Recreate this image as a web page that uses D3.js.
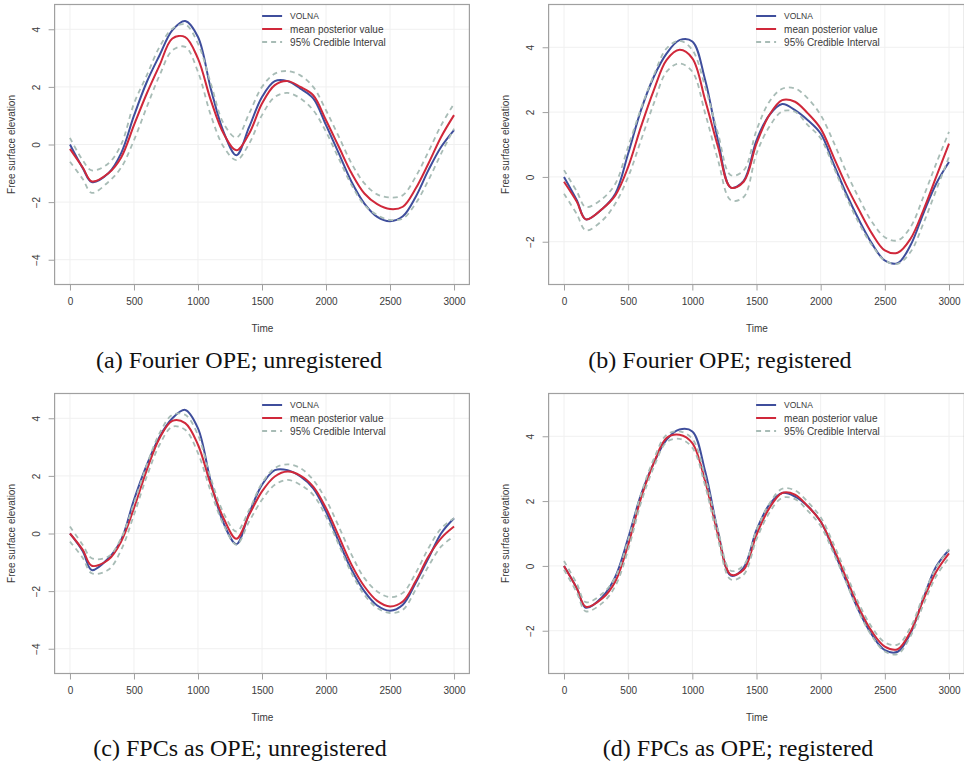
<!DOCTYPE html>
<html><head><meta charset="utf-8">
<script src="https://cdn.jsdelivr.net/npm/d3@7"></script>
<style>body{margin:0;background:#fff}svg{display:block}</style>
</head><body>
<svg id="c" width="964" height="765"></svg>
<script>
// ---------------- DATA ----------------
const times = [0,100,170,300,400,500,600,700,800,900,1000,1100,1200,1300,1400,1500,1600,1700,1800,1900,2000,2100,2200,2300,2400,2500,2600,2700,2800,2900,3000];
const xTicks = [0,500,1000,1500,2000,2500,3000];
const yTicksWide = [-4,-2,0,2,4];
const yTicksNarrow = [-2,0,2,4];
const legendLabels = ["VOLNA","mean posterior value","95% Credible Interval"];
const captions = ["(a) Fourier OPE; unregistered","(b) Fourier OPE; registered","(c) FPCs as OPE; unregistered","(d) FPCs as OPE; registered"];
const xLabel = "Time";
const yLabel = "Free surface elevation";

// Panel (a)
const volnaA = [0.0,-0.82,-1.30,-1.0,-0.30,1.0,2.17,3.1,3.97,4.29,3.73,1.94,0.44,-0.37,0.61,1.65,2.2,2.2,1.94,1.6,0.67,-0.31,-1.3,-2.05,-2.51,-2.66,-2.49,-1.82,-0.89,-0.08,0.5];
const meanA  = [-0.15,-0.8,-1.28,-1.0,-0.45,0.67,1.77,2.75,3.68,3.73,2.98,1.54,0.38,-0.2,0.38,1.42,2.06,2.2,2.0,1.71,0.84,-0.08,-1.0,-1.7,-2.07,-2.24,-2.16,-1.53,-0.66,0.27,1.02];
const upperA = [0.23,-0.55,-0.9,-0.66,0.0,1.42,2.4,3.39,4.02,4.17,3.5,2.12,0.73,0.24,1.08,2.0,2.46,2.55,2.4,2.0,1.19,0.27,-0.66,-1.35,-1.73,-1.84,-1.76,-1.12,-0.25,0.67,1.42];
const lowerA = [-0.6,-1.2,-1.68,-1.3,-0.8,0.15,1.3,2.4,3.27,3.39,2.52,1.02,-0.08,-0.54,0.03,1.02,1.65,1.79,1.6,1.19,0.44,-0.49,-1.41,-2.1,-2.45,-2.62,-2.57,-2.05,-1.24,-0.31,0.55];

// Panel (b)
const volnaB = [0.0,-0.72,-1.31,-0.98,-0.52,0.72,2.06,3.09,3.81,4.22,4.18,2.99,1.13,-0.33,-0.12,1.13,1.91,2.25,2.06,1.75,1.34,0.41,-0.52,-1.34,-2.06,-2.58,-2.66,-2.11,-1.13,-0.21,0.46];
const meanB  = [-0.15,-0.77,-1.31,-0.98,-0.57,0.31,1.55,2.68,3.61,3.92,3.66,2.37,0.93,-0.33,-0.15,1.03,1.91,2.37,2.32,1.96,1.49,0.62,-0.26,-1.03,-1.75,-2.27,-2.34,-1.91,-1.03,0.0,1.03];
const upperB = [0.21,-0.45,-0.93,-0.67,-0.21,0.93,2.11,3.14,3.97,4.2,3.92,2.78,1.34,0.05,0.2,1.44,2.32,2.72,2.73,2.42,1.91,1.08,0.15,-0.67,-1.39,-1.86,-1.96,-1.55,-0.62,0.41,1.39];
const lowerB = [-0.52,-1.15,-1.65,-1.34,-0.82,0.0,1.13,2.27,3.25,3.5,3.25,1.96,0.52,-0.72,-0.62,0.72,1.55,2.02,2.01,1.6,1.19,0.31,-0.62,-1.44,-2.11,-2.58,-2.68,-2.32,-1.44,-0.41,0.62];

// Panel (c)
const volnaC = [0.0,-0.62,-1.27,-0.86,-0.22,1.17,2.38,3.36,4.0,4.29,3.65,1.8,0.36,-0.37,0.71,1.69,2.2,2.2,1.98,1.57,0.76,-0.28,-1.26,-2.01,-2.5,-2.68,-2.47,-1.72,-0.86,0.01,0.53];
const meanC  = [0.0,-0.57,-1.12,-0.91,-0.28,0.88,2.2,3.31,3.91,3.83,3.08,1.69,0.53,-0.18,0.65,1.46,1.98,2.15,2.01,1.63,0.88,-0.1,-1.09,-1.84,-2.34,-2.53,-2.36,-1.66,-0.8,-0.16,0.24];
const upperC = [0.24,-0.4,-0.86,-0.8,-0.16,1.05,2.38,3.48,4.12,4.12,3.42,1.92,0.71,0.07,0.82,1.75,2.27,2.4,2.27,1.86,1.17,0.24,-0.74,-1.55,-2.01,-2.21,-2.06,-1.38,-0.51,0.18,0.53];
const lowerC = [-0.28,-0.85,-1.38,-1.26,-0.57,0.65,1.98,3.08,3.71,3.6,2.79,1.46,0.3,-0.39,0.42,1.17,1.69,1.86,1.69,1.34,0.59,-0.39,-1.38,-2.13,-2.59,-2.76,-2.65,-1.95,-1.14,-0.45,-0.1];

// Panel (d)
const volnaD = [0.0,-0.69,-1.29,-0.95,-0.33,0.86,2.2,3.18,3.9,4.21,4.15,2.92,1.06,-0.3,-0.05,1.11,1.89,2.25,2.14,1.84,1.37,0.49,-0.48,-1.41,-2.13,-2.6,-2.65,-2.08,-1.0,-0.02,0.49];
const meanD  = [0.0,-0.69,-1.26,-1.0,-0.48,0.65,2.09,3.18,3.95,4.05,3.79,2.61,0.96,-0.27,-0.12,0.96,1.78,2.25,2.2,1.84,1.37,0.55,-0.38,-1.31,-2.03,-2.49,-2.57,-2.03,-1.05,-0.18,0.39];
const upperD = [0.15,-0.55,-1.12,-0.85,-0.35,0.8,2.22,3.3,4.05,4.15,3.92,2.75,1.1,-0.15,0.02,1.1,1.92,2.38,2.33,1.97,1.5,0.68,-0.25,-1.18,-1.9,-2.36,-2.43,-1.9,-0.92,-0.05,0.52];
const lowerD = [-0.12,-0.82,-1.4,-1.14,-0.62,0.5,1.95,3.05,3.82,3.92,3.65,2.47,0.82,-0.42,-0.27,0.82,1.64,2.1,2.06,1.7,1.23,0.4,-0.52,-1.45,-2.17,-2.64,-2.72,-2.17,-1.2,-0.32,0.25];

const yLimWide = [-4.5,4.5];
const yLimNarrow = [-3,5];
const xLim = [0,3000];

// ---------------- LAYOUT / STYLE ----------------
const COL_VOLNA = "#3f4e9c";
const COL_MEAN = "#d0283a";
const COL_CI = "#a8bcb6";
const COL_BOX = "#a0a0a0";
const COL_TEXT = "#3a3a3a";

const panels = [
  {left:54.6, right:469.4, top:4.5, bottom:284.5, ylim:yLimWide, yt:yTicksWide,
   s:[volnaA,meanA,upperA,lowerA], cap:captions[0], cx:239, cy:368},
  {left:548.6, right:964.4, top:4.5, bottom:284.5, ylim:yLimNarrow, yt:yTicksNarrow,
   s:[volnaB,meanB,upperB,lowerB], cap:captions[1], cx:720, cy:368},
  {left:54.6, right:469.4, top:393.5, bottom:673.5, ylim:yLimWide, yt:yTicksWide,
   s:[volnaC,meanC,upperC,lowerC], cap:captions[2], cx:240, cy:756},
  {left:548.6, right:964.4, top:393.5, bottom:673.5, ylim:yLimNarrow, yt:yTicksNarrow,
   s:[volnaD,meanD,upperD,lowerD], cap:captions[3], cx:738, cy:756}
];

const svg = d3.select("#c");
const ext = (lim) => { const r = lim[1]-lim[0]; return [lim[0]-0.04*r, lim[1]+0.04*r]; };

panels.forEach((p, pi) => {
  const x = d3.scaleLinear().domain(ext(xLim)).range([p.left, p.right]);
  const y = d3.scaleLinear().domain(ext(p.ylim)).range([p.bottom, p.top]);
  const g = svg.append("g");

  // faint grid
  g.selectAll(".vg").data(xTicks).join("line")
    .attr("x1", d=>x(d)).attr("x2", d=>x(d)).attr("y1", p.top).attr("y2", p.bottom)
    .attr("stroke", "#f0f0f0").attr("stroke-width", 1);
  g.selectAll(".hg").data(p.yt).join("line")
    .attr("y1", d=>y(d)).attr("y2", d=>y(d)).attr("x1", p.left).attr("x2", p.right)
    .attr("stroke", "#f0f0f0").attr("stroke-width", 1);

  // curves
  const line = d3.line().x((d,i)=>x(times[i])).y(d=>y(d)).curve(d3.curveCatmullRom.alpha(0.5));
  const clipId = "clip" + pi;
  svg.append("clipPath").attr("id", clipId).append("rect")
    .attr("x", p.left).attr("y", p.top).attr("width", p.right-p.left).attr("height", p.bottom-p.top);
  const cg = g.append("g").attr("clip-path", "url(#"+clipId+")");
  cg.append("path").datum(p.s[0]).attr("d", line).attr("fill","none")
    .attr("stroke", COL_VOLNA).attr("stroke-width", 2);
  cg.append("path").datum(p.s[1]).attr("d", line).attr("fill","none")
    .attr("stroke", COL_MEAN).attr("stroke-width", 2);
  [p.s[2], p.s[3]].forEach(s => {
    cg.append("path").datum(s).attr("d", line).attr("fill","none")
      .attr("stroke", COL_CI).attr("stroke-width", 1.8).attr("stroke-dasharray","5,4");
  });

  // box
  g.append("rect").attr("x", p.left).attr("y", p.top)
    .attr("width", p.right-p.left).attr("height", p.bottom-p.top)
    .attr("fill","none").attr("stroke", COL_BOX).attr("stroke-width", 1.2);

  // x axis
  const xa = g.append("g").attr("transform", `translate(0,${p.bottom})`)
    .call(d3.axisBottom(x).tickValues(xTicks).tickSize(6).tickPadding(7).tickFormat(d3.format("d")));
  xa.select(".domain").remove();
  xa.selectAll(".tick line").attr("stroke", COL_BOX);
  xa.selectAll(".tick text").attr("fill", COL_TEXT).style("font-family","'Liberation Sans', Arial, sans-serif").style("font-size","10px");

  // y axis
  const ya = g.append("g").attr("transform", `translate(${p.left},0)`)
    .call(d3.axisLeft(y).tickValues(p.yt).tickSize(6).tickFormat(d3.format("d")));
  ya.select(".domain").remove();
  ya.selectAll(".tick line").attr("stroke", COL_BOX);
  ya.selectAll(".tick text")
    .attr("x", null).attr("dy", null)
    .attr("text-anchor","middle")
    .attr("transform", "translate(-18,0) rotate(-90)")
    .attr("dy", "0.35em")
    .attr("fill", COL_TEXT).style("font-family","'Liberation Sans', Arial, sans-serif").style("font-size","10px");

  // axis titles
  g.append("text").attr("x", (p.left+p.right)/2 + 0.5).attr("y", p.bottom + 47)
    .attr("text-anchor","middle").attr("fill", COL_TEXT)
    .style("font-family","'Liberation Sans', Arial, sans-serif").style("font-size","10px").text(xLabel);
  g.append("text").attr("transform", `translate(${p.left-40},${(p.top+p.bottom)/2}) rotate(-90)`)
    .attr("text-anchor","middle").attr("fill", COL_TEXT)
    .style("font-family","'Liberation Sans', Arial, sans-serif").style("font-size","10px").text(yLabel);

  // legend
  const lx = p.left + 207.5, ly = p.top + 11.5;
  const lg = g.append("g");
  const styles = [
    {c:COL_VOLNA, dash:null, w:2, fs:8.5},
    {c:COL_MEAN, dash:null, w:2, fs:10},
    {c:COL_CI, dash:"5,4", w:1.8, fs:10}
  ];
  styles.forEach((st,i) => {
    const yy = ly + i*13;
    lg.append("line").attr("x1", lx).attr("x2", lx+20).attr("y1", yy).attr("y2", yy)
      .attr("stroke", st.c).attr("stroke-width", st.w).attr("stroke-dasharray", st.dash);
    lg.append("text").attr("x", lx+28).attr("y", yy).attr("dy","0.35em").attr("fill", COL_TEXT)
      .style("font-family","'Liberation Sans', Arial, sans-serif").style("font-size", st.fs+"px")
      .text(legendLabels[i]);
  });

  // caption
  svg.append("text").attr("x", p.cx).attr("y", p.cy).attr("text-anchor","middle")
    .attr("fill","#111").style("font-family","'Liberation Serif', 'Times New Roman', serif")
    .style("font-size","24px").text(p.cap);
});
</script>
</body></html>
